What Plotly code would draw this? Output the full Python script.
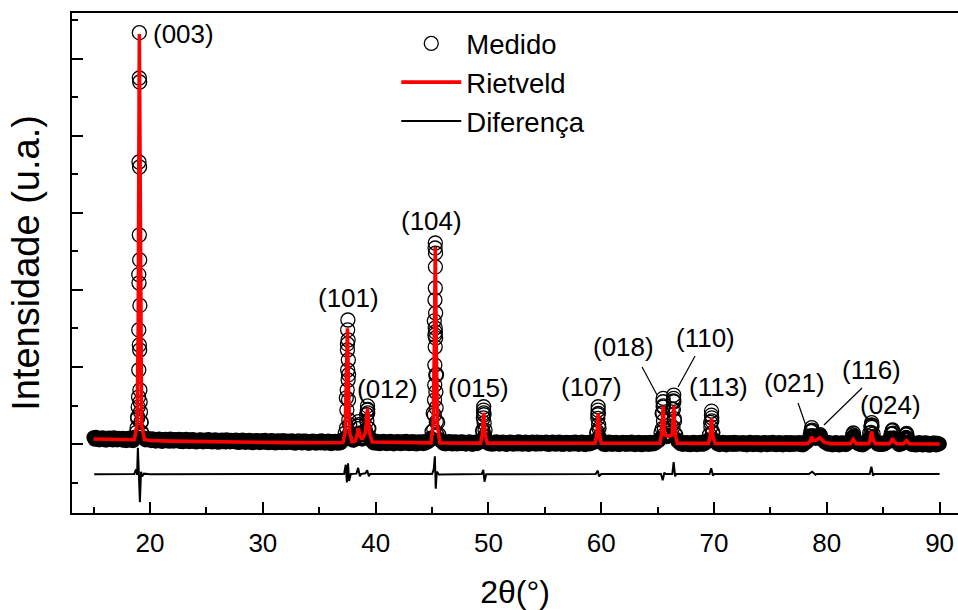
import numpy as np
import plotly.graph_objects as go

FONT = "Liberation Sans, Arial, sans-serif"

# ---------------- measured pattern (Medido) ----------------
# scan positions of the measured band (2theta, degrees, step 0.1)
scan_2theta = np.linspace(15.0, 90.0, 751)
scan_int = [
    85, 58, 89, 61, 74, 50, 78, 65, 85, 53, 74, 46, 78, 60, 81, 55, 68, 48, 83, 55, 71, 50, 77, 58, 73,
    51, 78, 45, 66, 41, 71, 54, 79, 47, 61, 41, 84, 95, 150, 330, 2200, 1800, 280, 130, 85, 71, 50, 70, 53, 66,
    68, 41, 72, 44, 57, 33, 61, 48, 68, 36, 57, 30, 61, 43, 65, 39, 51, 32, 67, 39, 55, 34, 61, 43, 58,
    36, 63, 31, 51, 26, 57, 40, 64, 33, 47, 27, 58, 37, 61, 30, 52, 23, 48, 34, 58, 40, 55, 24, 51, 35,
    56, 29, 60, 32, 45, 22, 50, 37, 57, 25, 46, 19, 51, 33, 54, 28, 41, 22, 57, 29, 45, 25, 51, 33, 48,
    26, 53, 21, 42, 16, 47, 30, 54, 23, 36, 17, 47, 26, 51, 20, 42, 13, 38, 24, 48, 30, 45, 14, 41, 25,
    46, 19, 51, 23, 36, 13, 40, 27, 47, 16, 37, 10, 41, 23, 45, 19, 31, 13, 47, 20, 36, 15, 41, 23, 38,
    17, 44, 12, 33, 8, 39, 22, 46, 15, 29, 9, 40, 19, 43, 12, 34, 5, 30, 17, 40, 22, 37, 6, 34, 18,
    39, 12, 44, 16, 29, 6, 33, 20, 40, 8, 29, 2, 34, 16, 37, 11, 24, 6, 40, 13, 33, 40, 70, 140, 600,
    1300, 900, 250, 110, 60, 45, 50, 70, 120, 230, 250, 130, 70, 60, 75, 110, 180, 380, 450, 200, 90, 45, 38, 12, 32,
    10, 37, 5, 26, 1, 32, 15, 39, 8, 22, 2, 33, 12, 37, 6, 28, -1, 24, 11, 34, 16, 31, 0, 28, 12,
    33, 6, 38, 10, 23, 0, 28, 15, 35, 3, 24, -3, 29, 11, 33, 7, 20, 1, 36, 8, 30, 22, 40, 45, 80,
    160, 400, 1600, 2300, 900, 280, 120, 60, 35, 30, 5, 32, -1, 26, 10, 34, 3, 30, -4, 28, 8, 31, -3, 23, 7,
    28, 1, 33, 5, 18, -5, 23, 10, 31, -1, 20, -8, 25, 6, 29, 2, 15, 25, 35, 50, 160, 380, 180, 60, 30,
    2, 29, -3, 18, -7, 24, 7, 32, 1, 14, -6, 25, 4, 29, -2, 20, -9, 16, 3, 27, 9, 24, -7, 21, 5,
    26, -1, 31, 3, 16, -7, 21, 8, 29, -3, 18, -9, 23, 5, 27, 1, 14, -6, 30, 1, 18, -3, 24, 6, 21,
    0, 27, -5, 16, -9, 22, 5, 30, -1, 13, -7, 24, 3, 28, -3, 19, -10, 15, 1, 25, 7, 22, -9, 19, 3,
    24, -3, 29, 1, 14, -9, 19, 6, 27, -5, 16, -11, 21, 3, 25, -1, 12, 10, 28, 22, 45, 140, 380, 200, 60,
    25, 25, -7, 14, -11, 20, 3, 28, -3, 11, -9, 22, 1, 26, -5, 17, -12, 13, 0, 24, 6, 21, -10, 18, 2,
    22, -5, 27, -1, 12, -11, 17, 4, 25, -7, 14, -13, 19, 1, 23, -3, 10, -9, 26, -2, 15, -4, 25, 10, 30,
    35, 40, 70, 150, 400, 480, 200, 110, 90, 100, 110, 140, 230, 450, 560, 300, 120, 60, 30, 35, 2, 25, -8, 20, 0,
    -4, 23, -9, 12, -13, 18, 1, 26, -5, 9, -11, 20, -1, 24, -7, 15, -5, 20, 18, 30, 55, 120, 280, 340, 150,
    60, 28, 26, -2, 11, -12, 16, 3, 24, -8, 12, -14, 18, 0, 22, -4, 9, -10, 25, -3, 14, -7, 20, 2, 17,
    -5, 22, -10, 11, -14, 17, 0, 25, -6, 8, -12, 19, -2, 23, -8, 14, -15, 10, -3, 21, 3, 18, -13, 15, -1,
    20, -7, 25, -3, 10, -13, 15, 2, 23, -9, 12, -15, 17, -1, 21, -5, 8, -11, 23, -5, 12, -9, 18, 0, 15,
    -6, 21, -11, 10, -15, 20, 12, 20, 35, 60, 110, 170, 180, 110, 80, 70, 75, 90, 105, 110, 90, 60, 40, 25, 15,
    25, -5, 21, -1, 8, -14, 13, 0, 21, -10, 10, -16, 15, -2, 19, -6, 7, -12, 20, 14, 25, 45, 80, 120, 110,
    60, 30, 15, -2, 19, -12, 9, -15, 16, 10, 18, 35, 70, 140, 230, 240, 130, 60, 28, 14, -5, 18, -8, 12, -10,
    17, -4, 20, 15, 25, 45, 80, 130, 170, 140, 80, 40, 20, 10, -12, 15, -3, 12, 30, 70, 120, 125, 70, 30, 12,
    -8, 18, -12, 7, -16, 13, -4, 21, -10, 4, -16, 15, -6, 19, -12, 10, -19, 6, -7, 17, -1, 14, -17, 11, -5,
    2,
]
assert len(scan_int) == len(scan_2theta)

# circles read on the peak flanks (2theta, intensity)
peak_pts_2theta = [
    19.05, 19.05, 19.08, 19.02, 19.07, 19.05, 19.08, 19.02, 19.00, 19.05, 19.08, 19.00,
    19.10, 18.98, 19.12, 18.95, 19.15, 18.90, 19.20, 18.85, 19.25,
    37.54, 37.52, 37.56, 37.50, 37.58, 37.52, 37.56, 37.48, 37.60, 37.45, 37.62, 37.42, 37.68,
    38.47, 38.45, 38.52,
    39.28, 39.26, 39.30, 39.22, 39.35, 39.18,
    45.29, 45.27, 45.31, 45.29, 45.26, 45.32, 45.28, 45.30, 45.26, 45.32, 45.28, 45.25,
    45.33, 45.24, 45.34, 45.22, 45.36, 45.20, 45.38, 45.16, 45.42,
    49.58, 49.57, 49.59, 49.55, 49.62, 49.50, 49.68,
    59.73, 59.72, 59.74, 59.70, 59.77, 59.65, 59.82,
    65.49, 65.48, 65.50, 65.46, 65.52, 65.42, 65.58,
    66.43, 66.42, 66.44, 66.40, 66.47, 66.36, 66.52,
    69.78, 69.77, 69.80, 69.72, 69.86,
    78.66, 78.62, 78.72, 79.40, 79.35,
    82.35, 82.30,
    83.98, 83.97, 83.99, 83.92, 84.06,
    85.83, 85.80, 85.88,
    87.07, 87.02,
]
peak_pts_int = [
    5342, 4753, 4701, 3662, 3597, 2714, 2390, 2091, 1481, 1286, 1221, 961,
    701, 610, 545, 480, 416, 351, 286, 208, 150,
    1610, 1481, 1351, 1221, 1091, 961, 831, 701, 571, 441, 312, 208, 140,
    290, 200, 140,
    494, 441, 403, 300, 200, 130,
    2610, 2545, 2480, 2026, 1870, 1701, 1506, 1455, 1416, 1377, 1260, 1026,
    896, 766, 675, 571, 468, 377, 286, 182, 120,
    484, 441, 403, 338, 273, 180, 110,
    484, 441, 398, 333, 250, 160, 100,
    593, 549, 494, 400, 300, 200, 120,
    636, 593, 549, 450, 330, 220, 130,
    428, 376, 300, 220, 140,
    212, 160, 110, 120, 90,
    143, 90,
    277, 247, 217, 150, 90,
    182, 130, 80,
    139, 90,
]

# ---------------- Rietveld fit ----------------
rietveld_2theta = [
    15.0, 17.0, 18.5, 18.6, 18.85, 18.95, 19.05, 19.15, 19.25, 19.5, 20.0, 22.0, 25.0, 28.0,
    32.0, 36.0, 37.1, 37.3, 37.42, 37.5, 37.58, 37.7, 37.9, 38.2, 38.35, 38.47, 38.6, 38.8,
    39.1, 39.28, 39.45, 39.7, 44.9, 45.1, 45.2, 45.29, 45.38, 45.48, 45.7, 49.3, 49.45,
    49.58, 49.71, 49.9, 59.45, 59.6, 59.73, 59.86, 60.0, 65.2, 65.35, 65.49, 65.63, 65.96,
    66.29, 66.43, 66.57, 66.75, 69.5, 69.65, 69.78, 69.91, 70.1, 78.3, 78.55, 78.66, 78.8,
    79.0, 79.4, 79.8, 80.3, 82.1, 82.35, 82.6, 83.7, 83.85, 83.98, 84.11, 84.3, 85.55,
    85.7, 85.83, 85.96, 86.2, 86.8, 87.07, 87.3, 90.0,
]
rietveld_int = [
    65, 55, 48, 55, 250, 1500, 5325, 1500, 250, 60, 45, 38, 30, 22,
    18, 16, 20, 150, 800, 1502, 800, 150, 30, 40, 120, 208, 110, 60,
    150, 463, 150, 25, 15, 250, 1200, 2558, 1200, 250, 15, 12, 120,
    403, 120, 12, 10, 110, 398, 110, 10, 10, 120, 494, 120, 100,
    120, 494, 120, 10, 8, 90, 333, 90, 8, 5, 40, 95, 45,
    50, 78, 20, 5, 5, 61, 5, 5, 50, 160, 50, 5, 5,
    30, 74, 30, 5, 3, 43, 3, 0,
]

# ---------------- Difference ----------------
diff_2theta = [
    15.05, 18.6, 18.75, 18.85, 18.92, 19.0, 19.1, 19.2, 19.3, 19.45, 20.0, 37.2, 37.35,
    37.45, 37.55, 37.65, 37.8, 38.3, 38.45, 38.6, 38.7, 39.1, 39.25, 39.4, 39.5, 45.0, 45.15,
    45.25, 45.33, 45.42, 45.6, 49.4, 49.55, 49.65, 49.8, 59.5, 59.7, 59.8, 60.0, 65.3,
    65.45, 65.6, 65.7, 66.3, 66.42, 66.55, 66.65, 69.6, 69.75, 69.9, 70.0, 78.4, 78.7,
    79.0, 79.1, 83.8, 83.95, 84.1, 84.2, 90.0,
]
diff_int = [
    -392, -390, -330, -400, -50, -450, -755, -360, -420, -385, -392, -390, -270,
    -500, -250, -480, -390, -385, -310, -420, -390, -380, -340, -420, -390, -390, -330,
    -160, -580, -360, -395, -390, -335, -490, -392, -390, -345, -420, -390, -390,
    -470, -370, -390, -390, -234, -420, -390, -390, -315, -410, -390, -390, -360,
    -400, -390, -390, -295, -410, -390, -390,
]

# ---------------- labels ----------------
hkl_text = ["(003)", "(101)", "(012)", "(104)", "(015)", "(107)", "(018)", "(110)",
            "(113)", "(021)", "(116)", "(024)"]
hkl_x = [22.96, 37.58, 41.03, 44.97, 49.11, 59.16, 61.96, 69.2, 70.38, 77.11, 83.98, 85.68]
hkl_y = [5325, 1896, 708, 2899, 723, 745, 1264, 1383, 745, 788, 961, 506]
# leader lines (x0, y0, x1, y1)
leaders = [
    (63.62, 1000, 64.95, 636),
    (68.32, 1143, 66.81, 740),
    (77.45, 532, 78.25, 195),
    (83.12, 727, 79.75, 247),
]

meas_x = np.array(peak_pts_2theta + list(scan_2theta))
meas_y = np.array(peak_pts_int + scan_int)
in_band = meas_y < 120   # points lying in the dense background band

fig = go.Figure()
# dense background part of the measured scan (same series, drawn as a band)
fig.add_trace(go.Scatter(
    x=meas_x[in_band], y=meas_y[in_band], mode="markers", name="Medido",
    showlegend=False,
    marker=dict(symbol="circle-open", size=12, color="black", line=dict(width=2.6)),
))
fig.add_trace(go.Scatter(
    x=meas_x[~in_band], y=meas_y[~in_band], mode="markers", name="Medido",
    marker=dict(symbol="circle-open", size=14, color="black", line=dict(width=1.3)),
))
fig.add_trace(go.Scatter(
    x=rietveld_2theta, y=rietveld_int, mode="lines", name="Rietveld",
    line=dict(color="#ff0000", width=3.6),
))
fig.add_trace(go.Scatter(
    x=diff_2theta, y=diff_int, mode="lines", name="Diferença",
    line=dict(color="black", width=2),
))

for t, x, y in zip(hkl_text, hkl_x, hkl_y):
    fig.add_annotation(x=x, y=y, text=t, showarrow=False,
                       font=dict(family=FONT, size=26, color="black"),
                       xanchor="center", yanchor="middle")
for x0, y0, x1, y1 in leaders:
    fig.add_shape(type="line", x0=x0, y0=y0, x1=x1, y1=y1, xref="x", yref="y",
                  line=dict(color="black", width=1.2))

fig.update_layout(
    width=958, height=610,
    margin=dict(l=72, r=0, t=13, b=97),
    paper_bgcolor="white", plot_bgcolor="white",
    font=dict(family=FONT, size=26, color="black"),
    showlegend=True,
    legend=dict(x=0.366, y=0.988, xanchor="left", yanchor="top",
                bgcolor="rgba(0,0,0,0)", borderwidth=0, tracegroupgap=0,
                font=dict(family=FONT, size=27.5, color="black"),
                itemwidth=60),
    xaxis=dict(
        range=[13.08, 91.63], showgrid=False, zeroline=False,
        showline=True, linecolor="black", linewidth=2.2, mirror=True,
        ticks="inside", ticklen=11, tickwidth=2, tickcolor="black",
        tickmode="array", tickvals=[20, 30, 40, 50, 60, 70, 80, 90],
        minor=dict(ticks="inside", ticklen=6, tickwidth=2, tickcolor="black",
                   tickvals=[15, 25, 35, 45, 55, 65, 75, 85]),
        tickfont=dict(family=FONT, size=26, color="black"),
        ticklabelstandoff=6,
        title=dict(text="2θ(°)", font=dict(family=FONT, size=32, color="black"), standoff=24),
    ),
    yaxis=dict(
        range=[-896, 5597], showgrid=False, zeroline=False,
        showline=True, linecolor="black", linewidth=2.2, mirror=False,
        ticks="inside", ticklen=11, tickwidth=2, tickcolor="black",
        tickmode="array", tickvals=[0, 1000, 2000, 3000, 4000, 5000],
        minor=dict(ticks="inside", ticklen=6, tickwidth=2, tickcolor="black",
                   tickvals=[-500, 500, 1500, 2500, 3500, 4500, 5500]),
        showticklabels=False,
        title=dict(text="Intensidade (u.a.)", font=dict(family=FONT, size=38, color="black"),
                   standoff=19),
    ),
)

fig.write_html("out.html")
